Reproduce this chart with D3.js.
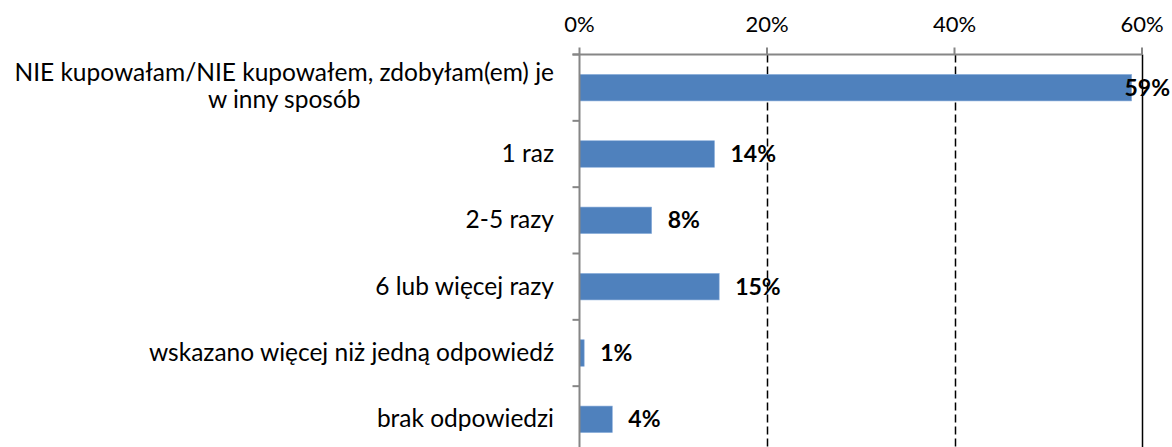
<!DOCTYPE html>
<html>
<head>
<meta charset="utf-8">
<script src="https://cdn.jsdelivr.net/npm/d3@7"></script>
<style>
  body { margin: 0; background: #fff; }
  svg { display: block; font-family: Lato, "Open Sans", sans-serif; }
</style>
</head>
<body>
<div id="chart"></div>
<script>
const categories = [
    "NIE kupowałam/NIE kupowałem, zdobyłam(em) je\nw inny sposób",
    "1 raz",
    "2-5 razy",
    "6 lub więcej razy",
    "wskazano więcej niż jedną odpowiedź",
    "brak odpowiedzi"
];
const values = [58.9, 14.4, 7.7, 14.9, 0.5, 3.5];
const tickValues = [0, 20, 40, 60];

const width = 1172, height = 447;
const plot = {left: 579.5, right: 1142, top: 54.5, bottom: 452.5};
const labelRight = 554;
const catFont = 24.5, tickFont = 22, valueFont = 23;

const svg = d3.select('#chart').append('svg')
    .attr('width', width)
    .attr('height', height);

const x = d3.scaleLinear().domain([0, 60]).range([plot.left, plot.right]);
const y = d3.scaleBand().domain(categories)
    .range([plot.top, plot.bottom])
    .paddingInner(0.6)
    .paddingOuter(0.3);
const step = y.step();

// grid lines (dashed inside, solid at the end)
svg.append('g').selectAll('line')
    .data(tickValues.filter(d => d > 0))
    .join('line')
    .attr('x1', d => Math.round(x(d)) + 0.5)
    .attr('x2', d => Math.round(x(d)) + 0.5)
    .attr('y1', plot.top)
    .attr('y2', plot.bottom)
    .attr('stroke', '#000')
    .attr('stroke-width', 1.5)
    .attr('stroke-dasharray', d => d === 60 ? null : '8,4');

// bars
svg.append('g').selectAll('rect')
    .data(values)
    .join('rect')
    .attr('x', x(0))
    .attr('y', (d, i) => y(categories[i]))
    .attr('width', d => x(d) - x(0))
    .attr('height', y.bandwidth())
    .attr('fill', '#4f81bd')
    .attr('stroke', '#8db0dc')
    .attr('stroke-width', 0.6);

// top axis
const axisColor = '#868686';
const axis = svg.append('g');
axis.append('line')
    .attr('x1', plot.left - 7).attr('x2', plot.right)
    .attr('y1', plot.top).attr('y2', plot.top)
    .attr('stroke', axisColor).attr('stroke-width', 2);
axis.selectAll('.xt')
    .data(tickValues)
    .join('line')
    .attr('class', 'xt')
    .attr('x1', d => x(d)).attr('x2', d => x(d))
    .attr('y1', plot.top - 7).attr('y2', plot.top)
    .attr('stroke', axisColor).attr('stroke-width', 2);
axis.selectAll('text')
    .data(tickValues)
    .join('text')
    .attr('x', d => x(d))
    .attr('y', 32)
    .attr('text-anchor', 'middle')
    .attr('font-size', tickFont)
    .attr('fill', '#000')
    .text(d => d + '%');

// left axis
axis.append('line')
    .attr('x1', plot.left).attr('x2', plot.left)
    .attr('y1', plot.top).attr('y2', plot.bottom)
    .attr('stroke', axisColor).attr('stroke-width', 2);
axis.selectAll('.yt')
    .data(d3.range(categories.length + 1))
    .join('line')
    .attr('class', 'yt')
    .attr('x1', plot.left - 7).attr('x2', plot.left)
    .attr('y1', i => plot.top + i * step)
    .attr('y2', i => plot.top + i * step)
    .attr('stroke', axisColor).attr('stroke-width', 2);

// category labels, multi-line ones centred on their longest line
const catLabels = svg.append('g').selectAll('text')
    .data(categories)
    .join('text')
    .attr('font-size', catFont)
    .attr('fill', '#000');
catLabels.each(function(d) {
    const t = d3.select(this);
    const lines = d.split('\n');
    const cy = y(d) + y.bandwidth() / 2;
    const lh = 27;
    lines.forEach((ln, k) => {
        t.append('tspan')
            .attr('y', cy + 8 + (k - (lines.length - 1) / 2) * lh - (lines.length > 1 ? 1 : 0))
            .text(ln);
    });
    if (lines.length > 1) {
        const w = d3.max(t.selectAll('tspan').nodes(), n => n.getComputedTextLength());
        t.attr('text-anchor', 'middle').selectAll('tspan').attr('x', labelRight - w / 2);
    } else {
        t.attr('text-anchor', 'end').selectAll('tspan').attr('x', labelRight);
    }
});

// value labels
svg.append('g').selectAll('text')
    .data(values)
    .join('text')
    .attr('y', (d, i) => y(categories[i]) + y.bandwidth() / 2 + 8)
    .attr('font-size', valueFont)
    .attr('font-weight', 'bold')
    .attr('fill', '#000')
    .text(d => Math.round(d) + '%')
    .attr('x', function(d) {
        const w = this.getComputedTextLength();
        return Math.min(x(d) + 16, width - 2 - w);
    });
</script>
</body>
</html>
